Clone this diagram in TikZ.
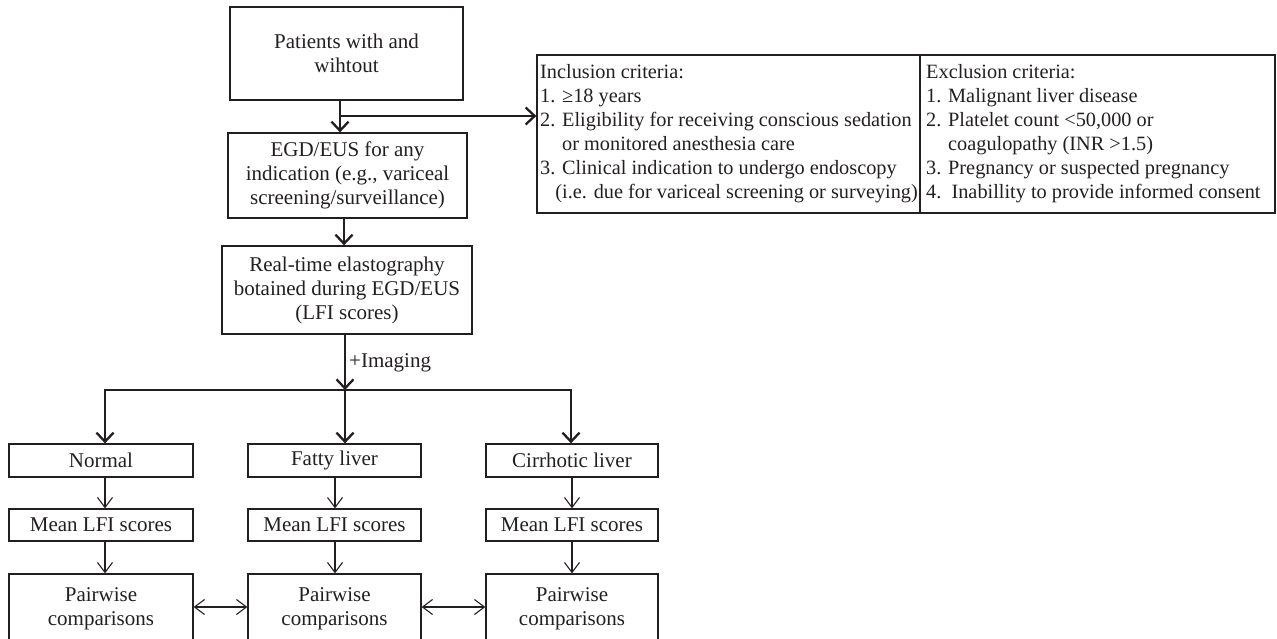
\documentclass[tikz,border=0pt]{standalone}
\usepackage{fontspec}
\setmainfont{Liberation Serif}
\usetikzlibrary{arrows.meta}
\definecolor{ink}{HTML}{231F20}
\tikzset{
  box/.style={draw=ink, line width=1.3pt, rectangle, inner sep=0pt, align=center,
    font=\fontsize{21}{24}\selectfont, text=ink},
  crit/.style={inner sep=0pt, align=left, anchor=north west,
    font=\fontsize{20.3}{24}\selectfont, text=ink},
  bigarrow/.style={draw=ink, line width=2.3pt, -{Straight Barb[length=9pt,width=17pt,line width=2.3pt]}},
  busline/.style={draw=ink, line width=2.3pt, line cap=rect},
  smallarrow/.style={draw=ink, line width=1.1pt, -{Straight Barb[length=10pt,width=15pt,line width=1.1pt]}},
  dblarrow/.style={draw=ink, line width=1.1pt, {Straight Barb[length=10pt,width=15pt,line width=1.1pt]}-{Straight Barb[length=10pt,width=15pt,line width=1.1pt]}},
  lbl/.style={inner sep=0pt, font=\fontsize{21}{24}\selectfont, text=ink}
}
\begin{document}
\begin{tikzpicture}[x=1pt,y=-1pt]
\useasboundingbox (0,0) rectangle (1277,639);
\clip (0,0) rectangle (1277,639);

% top column
\node[box, minimum width=233pt, minimum height=93pt] (top) at (346.5,53.5) {Patients with and\\wihtout};
\node[box, minimum width=239pt, minimum height=85pt] (egd) at (347.5,175.5) {EGD/EUS for any\\indication (e.g., variceal\\screening/surveillance)};
\node[box, minimum width=250pt, minimum height=88pt] (rt) at (347,290) {Real-time elastography\\botained during EGD/EUS\\(LFI scores)};

% criteria box
\node[draw=ink, line width=1.3pt, rectangle, minimum width=738pt, minimum height=158pt, inner sep=0pt] (crit) at (906,134) {};
\coordinate (divt) at (920,55);
\coordinate (divb) at (920,213);
\draw[draw=ink, line width=1.3pt] (divt) -- (divb);
\node[crit] (inc) at (540,64) {Inclusion criteria:\\1. ≥18 years\\2. Eligibility for receiving conscious sedation\\\phantom{2. }or monitored anesthesia care\\3. Clinical indication to undergo endoscopy\\\phantom{3.}(i.e. due for variceal screening or surveying)};
\node[crit] (exc) at (926,64) {Exclusion criteria:\\1. Malignant liver disease\\2. Platelet count <50,000 or\\\phantom{2. }coagulopathy (INR >1.5)\\3. Pregnancy or suspected pregnancy\\4.\ \ Inabillity to provide informed consent};

% row boxes
\node[box, minimum width=184pt, minimum height=33pt] (nor) at (101,460.5) {Normal};
\node[box, minimum width=173pt, minimum height=33pt] (fat) at (334.5,460.5) {Fatty liver};
\node[box, minimum width=172pt, minimum height=33pt] (cir) at (572,460.5) {Cirrhotic liver};
\node[box, minimum width=184pt, minimum height=32pt] (m1) at (101,525) {Mean LFI scores};
\node[box, minimum width=173pt, minimum height=32pt] (m2) at (334.5,525) {Mean LFI scores};
\node[box, minimum width=172pt, minimum height=32pt] (m3) at (572,525) {Mean LFI scores};
\node[box, minimum width=184pt, minimum height=70pt] (p1) at (101,609) {Pairwise\\comparisons};
\node[box, minimum width=173pt, minimum height=70pt] (p2) at (334.5,609) {Pairwise\\comparisons};
\node[box, minimum width=172pt, minimum height=70pt] (p3) at (572,609) {Pairwise\\comparisons};

% connectors top
\coordinate (br) at (340,116);
\coordinate (c2) at (344,0);
\coordinate (bus) at (345,390);
\coordinate (b1) at (105,0);
\coordinate (b3) at (571,0);
\draw[bigarrow] (top.south -| br) -- (egd.north -| br);
\draw[bigarrow] (br) -- (br -| crit.west);
\draw[bigarrow] (egd.south -| c2) -- (rt.north -| c2);
\draw[bigarrow] (rt.south -| bus) -- (bus);
\node[lbl, anchor=west] (img) at (349,363) {+Imaging};
\draw[busline] (bus -| b1) -- (bus -| b3);
\draw[bigarrow] (bus -| b1) -- (nor.north -| b1);
\draw[bigarrow] (bus) -- (fat.north -| bus);
\draw[bigarrow] (bus -| b3) -- (cir.north -| b3);

% thin arrows
\coordinate (t1) at (105,0);
\coordinate (t2) at (335,0);
\coordinate (t3) at (572,0);
\draw[smallarrow] (nor.south -| t1) -- (m1.north -| t1);
\draw[smallarrow] (fat.south -| t2) -- (m2.north -| t2);
\draw[smallarrow] (cir.south -| t3) -- (m3.north -| t3);
\draw[smallarrow] (m1.south -| t1) -- (p1.north -| t1);
\draw[smallarrow] (m2.south -| t2) -- (p2.north -| t2);
\draw[smallarrow] (m3.south -| t3) -- (p3.north -| t3);
\coordinate (dy) at (0,607);
\draw[dblarrow] (p1.east |- dy) -- (p2.west |- dy);
\draw[dblarrow] (p2.east |- dy) -- (p3.west |- dy);
\end{tikzpicture}
\end{document}
